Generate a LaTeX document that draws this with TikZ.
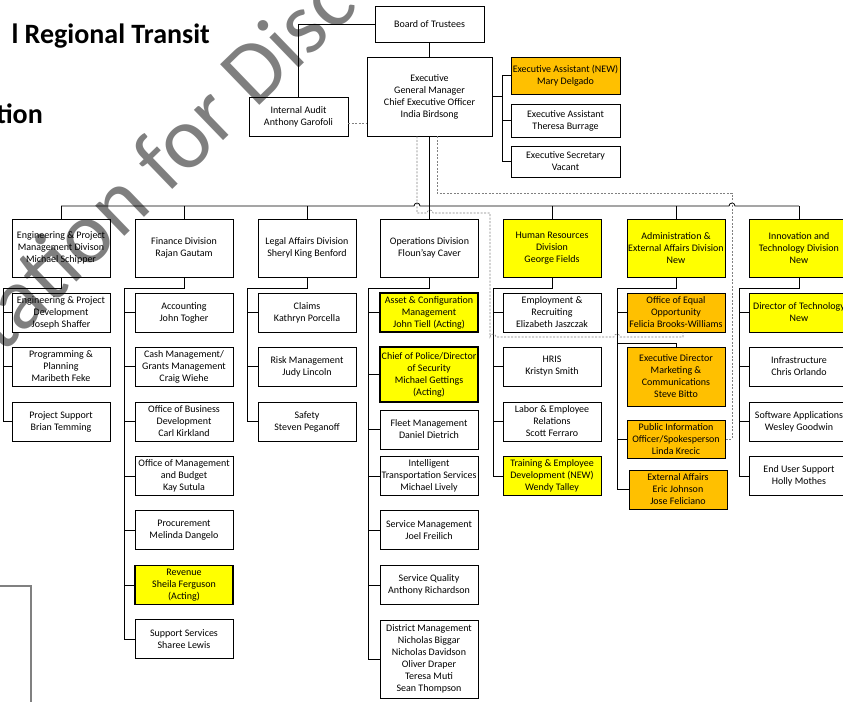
\documentclass[tikz,border=0pt]{standalone}
\usepackage{fontspec}
\setmainfont{Carlito}
\definecolor{ylw}{HTML}{FFFF00}
\definecolor{org}{HTML}{FFC000}
\tikzset{
 bx/.style={draw=black, line width=0.8pt, fill=white, align=center, inner sep=0.5pt,
   font=\fontsize{10}{12}\selectfont, minimum width=98pt, minimum height=39pt},
 yb/.style={bx, fill=ylw, line width=1.1pt},
 ob/.style={bx, fill=org},
 dv/.style={minimum height=58pt},
 ln/.style={line width=0.8pt, black},
 dl/.style={gray, dash pattern=on 2pt off 1.5pt, line width=0.6pt},
}
\begin{document}
\begin{tikzpicture}[x=1pt,y=-1pt]
\useasboundingbox (0,0) rectangle (843,702);
\fill[white] (0,0) rectangle (843,702);

% title
\node[anchor=base east, inner sep=0, font=\fontsize{28}{30}\selectfont\bfseries] (t1) at (210,43) {l Regional Transit};
\node[anchor=base east, inner sep=0, font=\fontsize{28}{30}\selectfont\bfseries] (t2) at (43,123) {tion};

% top
\node[bx, minimum width=109pt, minimum height=36pt] (bot) at (429.5,24) {Board of Trustees};
\node[bx, minimum width=125pt, minimum height=79pt] (exe) at (429.5,96.5) {Executive\\General Manager\\Chief Executive Officer\\India Birdsong};
\node[bx, minimum width=99pt] (ia) at (298.5,116.5) {Internal Audit\\Anthony Garofoli};
\node[ob, minimum width=109pt, minimum height=37pt] (ea1) at (565.5,75.5) {Executive Assistant (NEW)\\Mary Delgado};
\node[bx, minimum width=109pt, minimum height=33pt] (ea2) at (565.5,120.5) {Executive Assistant\\Theresa Burrage};
\node[bx, minimum width=109pt, minimum height=31pt] (es) at (565.5,161.5) {Executive Secretary\\Vacant};

% divisions
\node[bx, dv] (eng) at (61,248) {Engineering \& Project\\Management Divison\\Michael Schipper};
\node[bx, dv] (fin) at (184,248) {Finance Division\\Rajan Gautam};
\node[bx, dv] (leg) at (307,248) {Legal Affairs Division\\Sheryl King Benford};
\node[bx, dv] (ops) at (429.5,248) {Operations Division\\Floun'say Caver};
\node[yb, dv, line width=0.8pt] (hr) at (552,248) {Human Resources\\Division\\George Fields};
\node[yb, dv, line width=0.8pt] (adm) at (676,248) {Administration \&\\External Affairs Division\\New};
\node[yb, dv, line width=0.8pt, minimum width=100pt] (inn) at (799,248) {Innovation and\\Technology Division\\New};

% engineering
\node[bx] (e1) at (61,312.5) {Engineering \& Project\\Development\\Joseph Shaffer};
\node[bx] (e2) at (61,366.5) {Programming \&\\Planning\\Maribeth Feke};
\node[bx] (e3) at (61,421.5) {Project Support\\Brian Temming};
% finance
\node[bx] (f1) at (184,312.5) {Accounting\\John Togher};
\node[bx] (f2) at (184,366.5) {Cash Management/\\Grants Management\\Craig Wiehe};
\node[bx] (f3) at (184,421.5) {Office of Business\\Development\\Carl Kirkland};
\node[bx] (f4) at (184,476) {Office of Management\\and Budget\\Kay Sutula};
\node[bx] (f5) at (184,530) {Procurement\\Melinda Dangelo};
\node[yb] (f6) at (184,585) {Revenue\\Sheila Ferguson\\(Acting)};
\node[bx] (f7) at (184,639) {Support Services\\Sharee Lewis};
% legal
\node[bx] (l1) at (307,312.5) {Claims\\Kathryn Porcella};
\node[bx] (l2) at (307,366.5) {Risk Management\\Judy Lincoln};
\node[bx] (l3) at (307,421.5) {Safety\\Steven Peganoff};
% operations
\node[yb] (o1) at (429,312.5) {Asset \& Configuration\\Management\\John Tiell (Acting)};
\node[yb, minimum height=55pt] (o2) at (429,374.5) {Chief of Police/Director\\of Security\\Michael Gettings\\(Acting)};
\node[bx] (o3) at (429,429.5) {Fleet Management\\Daniel Dietrich};
\node[bx] (o4) at (429,476) {Intelligent\\Transportation Services\\Michael Lively};
\node[bx] (o5) at (429,530) {Service Management\\Joel Freilich};
\node[bx] (o6) at (429,585) {Service Quality\\Anthony Richardson};
\node[bx, minimum height=78pt] (o7) at (429,659) {District Management\\Nicholas Biggar\\Nicholas Davidson\\Oliver Draper\\Teresa Muti\\Sean Thompson};
% HR
\node[bx] (h1) at (552,312.5) {Employment \&\\Recruiting\\Elizabeth Jaszczak};
\node[bx] (h2) at (552,366.5) {HRIS\\Kristyn Smith};
\node[bx] (h3) at (552,421.5) {Labor \& Employee\\Relations\\Scott Ferraro};
\node[yb, line width=0.8pt] (h4) at (552,476) {Training \& Employee\\Development (NEW)\\Wendy Talley};
% admin
\node[ob] (a1) at (676,312.5) {Office of Equal\\Opportunity\\Felicia Brooks-Williams};
\node[ob, minimum height=59pt] (a2) at (676,376.5) {Executive Director\\Marketing \&\\Communications\\Steve Bitto};
\node[ob, minimum height=38pt] (a3) at (676,439) {Public Information\\Officer/Spokesperson\\Linda Krecic};
\node[ob] (a4) at (678,489.5) {External Affairs\\Eric Johnson\\Jose Feliciano};
% innovation
\node[yb, line width=0.8pt, minimum width=100pt] (i1) at (799,312.5) {Director of Technology\\New};
\node[bx, minimum width=100pt] (i2) at (799,366.5) {Infrastructure\\Chris Orlando};
\node[bx, minimum width=100pt] (i3) at (799,421.5) {Software Applications\\Wesley Goodwin};
\node[bx, minimum width=100pt] (i4) at (799,476) {End User Support\\Holly Mothes};

% top connectors
\draw[ln] (bot.south) -- (exe.north);
\draw[ln] (bot.west) -| (ia.north);
\coordinate (xv) at (502,97);
\draw[ln] (exe.east) -- (exe.east -| xv);
\draw[ln] (ea1.west) -- (ea1.west -| xv) -- (es.west -| xv) -- (es.west);
\draw[ln] (ea2.west) -- (ea2.west -| xv);

% bus
\coordinate (bl) at (61,206);
\coordinate (br) at (799,206);
\draw[ln] (bl) -- (414,206) arc[start angle=180,end angle=0,radius=3pt] -- (729,206) arc[start angle=180,end angle=0,radius=3pt] -- (br);
\draw[ln] (exe.south) -- (exe.south |- bl);
\foreach \n in {eng,fin,leg,ops,hr,adm,inn} \draw[ln] (\n.north) -- (\n.north |- bl);

% engineering children
\coordinate (ev) at (3,288);
\draw[ln] (eng.south) |- (ev) -- (e3.west -| ev) -- (e3.west);
\foreach \c in {e1,e2} \draw[ln] (\c.west) -- (\c.west -| ev);
% finance
\coordinate (fv) at (124,288);
\draw[ln] (fin.south) |- (fv) -- (f7.west -| fv) -- (f7.west);
\foreach \c in {f1,f2,f3,f4,f5,f6} \draw[ln] (\c.west) -- (\c.west -| fv);
% legal
\coordinate (lv) at (247,288);
\draw[ln] (leg.south) |- (lv) -- (l3.west -| lv) -- (l3.west);
\foreach \c in {l1,l2} \draw[ln] (\c.west) -- (\c.west -| lv);
% operations
\coordinate (ov) at (368,288);
\draw[ln] (ops.south) |- (ov) -- (o7.west -| ov) -- (o7.west);
\foreach \c in {o1,o2,o3,o4,o5,o6} \draw[ln] (\c.west) -- (\c.west -| ov);
% HR
\coordinate (hv) at (493,288);
\draw[ln] (hr.south) |- (hv) -- (h4.west -| hv) -- (h4.west);
\foreach \c in {h1,h2,h3} \draw[ln] (\c.west) -- (\c.west -| hv);
% admin
\coordinate (av) at (617,288);
\coordinate (ac) at (617,343);
\draw[ln] (adm.south) |- (av) -- (a4.west -| av) -- (a4.west);
\draw[ln] (a1.west) -- (a1.west -| av);
\draw[ln] (a3.west) -- (a3.west -| av);
\draw[ln] (a2.north) |- (ac);
% innovation
\coordinate (iv) at (739,288);
\draw[ln] (inn.south) |- (iv) -- (i4.west -| iv) -- (i4.west);
\foreach \c in {i1,i2,i3} \draw[ln] (\c.west) -- (\c.west -| iv);

% dotted (dashed) links
\draw[dl] ([yshift=-6.5pt]ia.east) -- ([yshift=-26.5pt]exe.west);
\draw[dl] ([xshift=-12.5pt]exe.south) -- (417,213) -- (427,213) arc[start angle=180,end angle=0,radius=3pt]
  -- (490,213) -- (490,337) arc[start angle=180,end angle=0,radius=3pt]
  -- (614,337) arc[start angle=180,end angle=0,radius=3pt] -- (683,337) -- ([xshift=7pt]a1.south);
\draw[dl] ([xshift=7.5pt]exe.south) -- (437,193) -- (732,193) -- (732,439) -- (a3.east);

% bottom-left frame fragment
\draw[gray, line width=1.5pt] (0,586) -- (31,586) -- (31,702);

% watermark
\node[rotate=44, inner sep=0, font=\fontsize{88}{88}\selectfont, text=black, text opacity=0.5] (wm) at (160,160) {tation for Disc};
\end{tikzpicture}
\end{document}
